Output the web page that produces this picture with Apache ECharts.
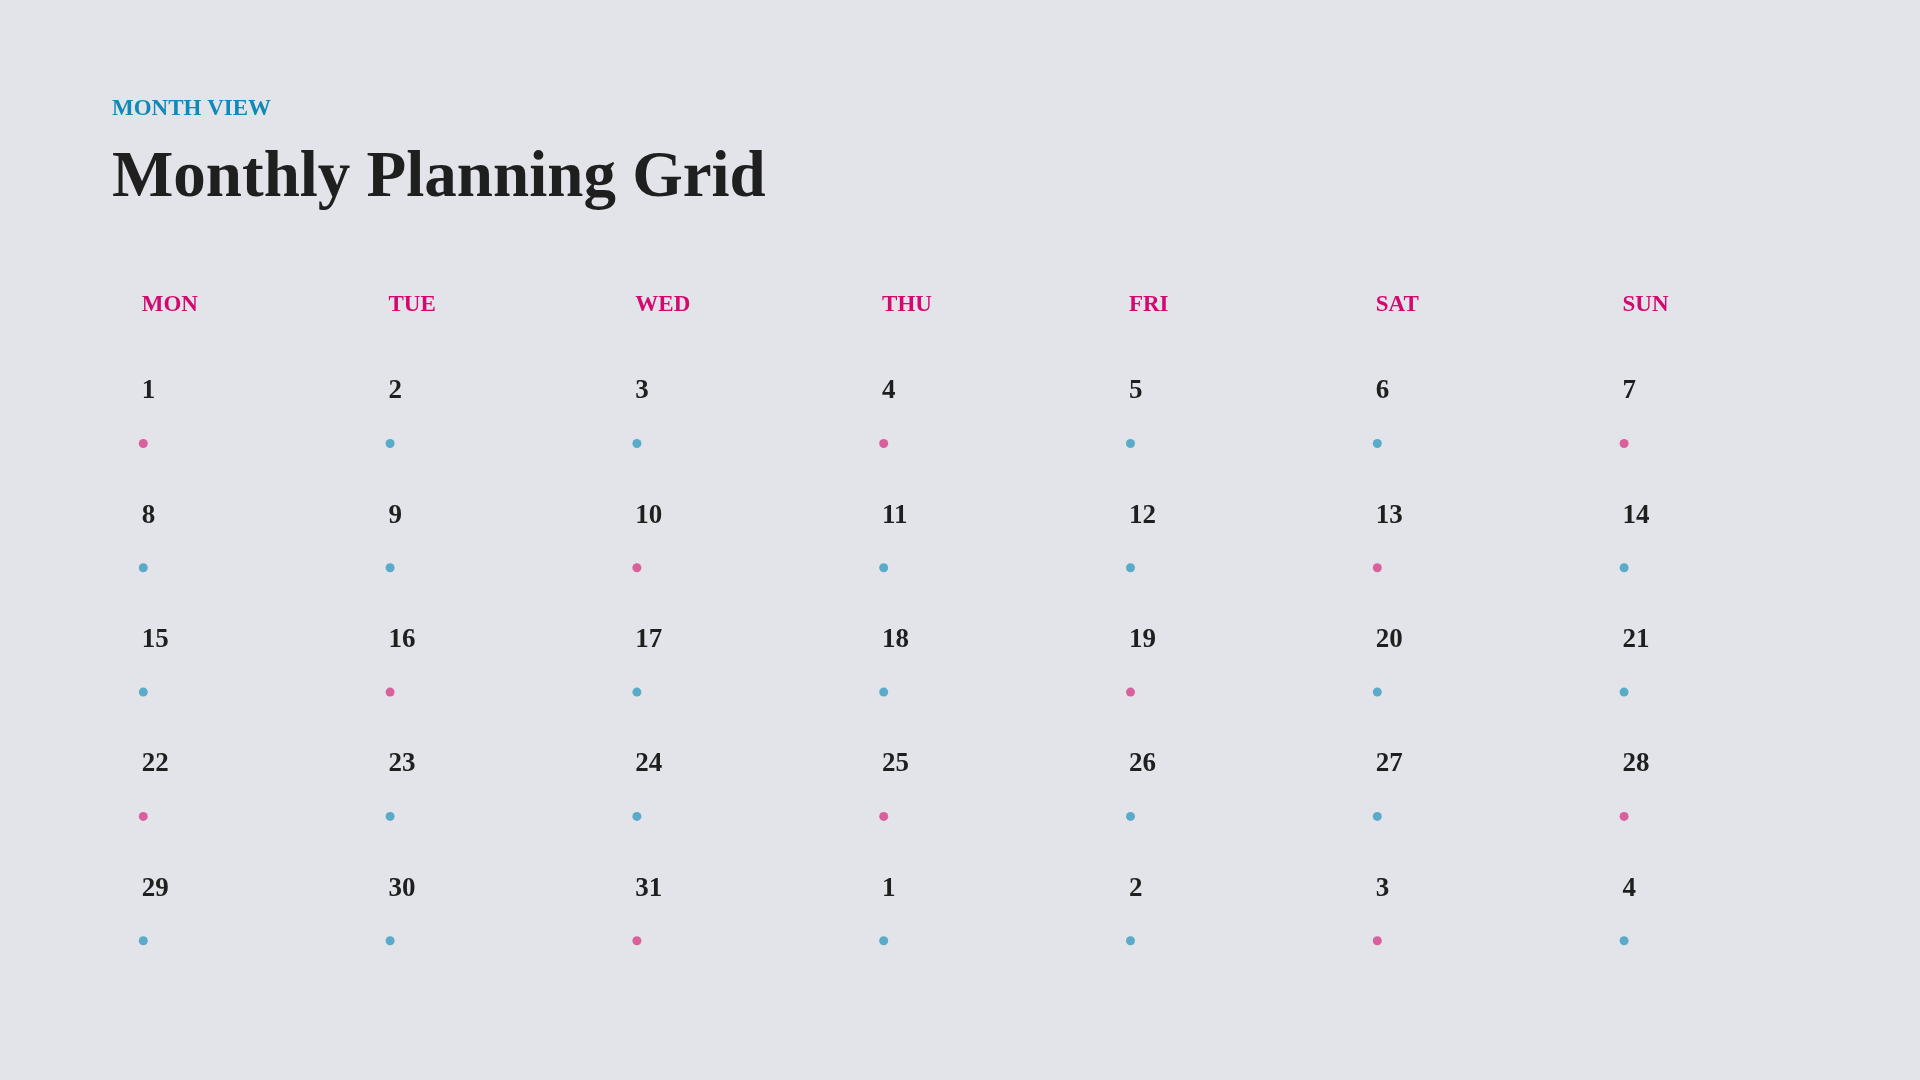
<!DOCTYPE html>
<html>
<head>
<meta charset="utf-8">
<script src="https://cdn.jsdelivr.net/npm/echarts@6/dist/echarts.min.js"></script>
<style>
  html, body { margin: 0; padding: 0; background: #e2e4e9; }
  #main { width: 1920px; height: 1080px; }
</style>
</head>
<body>
<div id="main"></div>
<script>
// 表头 / 日期 / 圆点类型
var weekdays = ['MON', 'TUE', 'WED', 'THU', 'FRI', 'SAT', 'SUN'];
var weeks = ['w1', 'w2', 'w3', 'w4', 'w5'];
var days = [
    1, 2, 3, 4, 5, 6, 7,
    8, 9, 10, 11, 12, 13, 14,
    15, 16, 17, 18, 19, 20, 21,
    22, 23, 24, 25, 26, 27, 28,
    29, 30, 31, 1, 2, 3, 4
];
var dotTypes = [
    'pink', 'blue', 'blue', 'pink', 'blue', 'blue', 'pink',
    'blue', 'blue', 'pink', 'blue', 'blue', 'pink', 'blue',
    'blue', 'pink', 'blue', 'blue', 'pink', 'blue', 'blue',
    'pink', 'blue', 'blue', 'pink', 'blue', 'blue', 'pink',
    'blue', 'blue', 'pink', 'blue', 'blue', 'pink', 'blue'
];

var dotColors = { pink: '#d9609c', blue: '#5aaac9' };
var serif = '"Liberation Serif", "DejaVu Serif", serif';

var dom = document.getElementById('main');
var myChart = echarts.init(dom, null, { renderer: 'canvas' });

var dayData = days.map(function (d, i) {
    return [i % 7, Math.floor(i / 7), d];
});
var dotData = dotTypes.map(function (t, i) {
    return {
        value: [i % 7, Math.floor(i / 7)],
        itemStyle: { color: dotColors[t], opacity: 1 }
    };
});

var option = {
    backgroundColor: '#e2e4e9',
    animation: false,
    title: [
        {
            text: 'MONTH VIEW',
            left: 112,
            top: 98,
            padding: 0,
            textStyle: { fontFamily: serif, fontWeight: 'bold', fontSize: 23, color: '#0f89b5' }
        },
        {
            text: 'Monthly Planning Grid',
            left: 112,
            top: 147,
            padding: 0,
            textStyle: { fontFamily: serif, fontWeight: 'bold', fontSize: 65, color: '#1f1f1f' }
        }
    ],
    grid: {
        left: 141.7,
        width: 1480.8,
        top: 389,
        height: 497.2
    },
    xAxis: {
        type: 'category',
        data: weekdays,
        position: 'top',
        boundaryGap: false,
        axisLine: { show: false },
        axisTick: { show: false },
        splitLine: { show: false },
        axisLabel: {
            margin: 83.5,
            align: 'left',
            verticalAlign: 'middle',
            fontFamily: serif,
            fontWeight: 'bold',
            fontSize: 23,
            color: '#d4086f'
        }
    },
    yAxis: {
        type: 'category',
        data: weeks,
        inverse: true,
        boundaryGap: false,
        show: false
    },
    series: [
        {
            name: 'days',
            type: 'scatter',
            symbolSize: 0,
            data: dayData,
            silent: true,
            itemStyle: { opacity: 1 },
            label: {
                show: true,
                position: 'inside',
                align: 'left',
                verticalAlign: 'middle',
                offset: [0, 2.5],
                formatter: function (p) { return p.value[2]; },
                fontFamily: serif,
                fontWeight: 'bold',
                fontSize: 27,
                color: '#1f1f1f',
                opacity: 1
            }
        },
        {
            name: 'dots',
            type: 'scatter',
            symbol: 'circle',
            symbolSize: 9,
            symbolOffset: [1.6, 54.5],
            data: dotData,
            silent: true
        }
    ]
};
myChart.setOption(option);
window.addEventListener('resize', myChart.resize);
</script>
</body>
</html>
